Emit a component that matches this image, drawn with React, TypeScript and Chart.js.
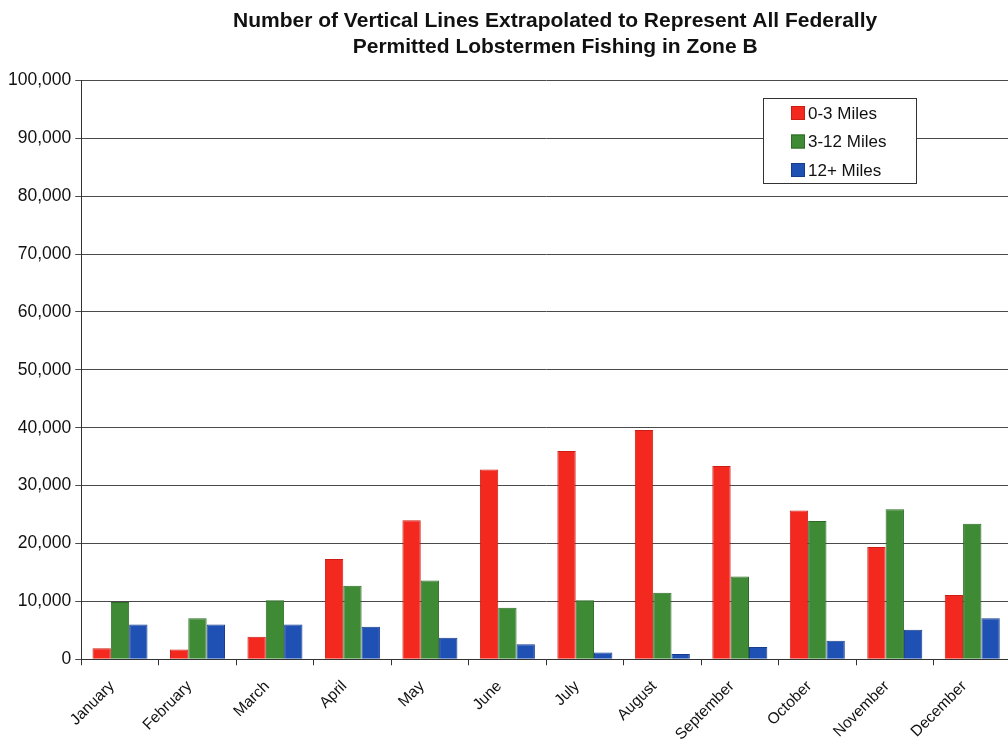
import React, { useEffect, useRef } from "react";
import { Chart, registerables } from "chart.js";

Chart.register(...registerables);

const months = [
  "January", "February", "March", "April", "May", "June",
  "July", "August", "September", "October", "November", "December",
];
const miles0to3 = [1900, 1700, 3900, 17300, 24000, 32800, 36000, 39600, 33400, 25700, 19400, 11100];
const miles3to12 = [9900, 7100, 10200, 12700, 13600, 8900, 10200, 11500, 14300, 23900, 25900, 23400];
const miles12plus = [6000, 6000, 6000, 5600, 3700, 2600, 1150, 900, 2100, 3200, 5100, 7100];
const seriesLabels = ["0-3 Miles", "3-12 Miles", "12+ Miles"];
const titleLines = [
  "Number of Vertical Lines Extrapolated to Represent All Federally",
  "Permitted Lobstermen Fishing in Zone B",
];

const FONT = 'Arial, "Liberation Sans", Helvetica, sans-serif';

const shiftTitle = {
  id: "shiftTitle",
  afterLayout(chart: any) {
    const t = chart.titleBlock;
    if (t) {
      t.left += 9;
      t.right += 9;
    }
  },
};

const boxLegend = {
  id: "boxLegend",
  afterDraw(chart: any) {
    const ctx = chart.ctx;
    const left = 763;
    const top = 98;
    const w = 153;
    const h = 85;
    ctx.save();
    ctx.fillStyle = "#ffffff";
    ctx.fillRect(left, top, w, h);
    ctx.strokeStyle = "#333333";
    ctx.lineWidth = 1;
    ctx.strokeRect(left + 0.5, top + 0.5, w, h);
    ctx.font = `17px ${FONT}`;
    ctx.textBaseline = "middle";
    ctx.textAlign = "left";
    chart.data.datasets.forEach((ds: any, i: number) => {
      const cy = top + 15 + i * 28.5;
      ctx.fillStyle = ds.backgroundColor;
      ctx.fillRect(791, cy - 7, 14, 14);
      ctx.strokeStyle = ds.borderColor;
      ctx.strokeRect(791.5, cy - 6.5, 13, 13);
      ctx.fillStyle = "#111111";
      ctx.fillText(ds.label, 808, cy + 1);
    });
    ctx.restore();
  },
};

export default function App() {
  const ref = useRef<HTMLCanvasElement | null>(null);

  useEffect(() => {
    if (!ref.current) return;
    const chart = new Chart(ref.current, {
      type: "bar",
      data: {
        labels: months,
        datasets: [
          {
            label: seriesLabels[0],
            data: miles0to3,
            backgroundColor: "#f3281f",
            borderColor: "#cc1d14",
            borderWidth: 1,
          },
          {
            label: seriesLabels[1],
            data: miles3to12,
            backgroundColor: "#3f8b35",
            borderColor: "#2c6a25",
            borderWidth: 1,
          },
          {
            label: seriesLabels[2],
            data: miles12plus,
            backgroundColor: "#1f50b4",
            borderColor: "#173c8c",
            borderWidth: 1,
          },
        ],
      },
      options: {
        animation: false,
        responsive: true,
        maintainAspectRatio: false,
        datasets: { bar: { categoryPercentage: 0.71, barPercentage: 1.0 } },
        layout: { padding: { top: 4, right: 5, bottom: -6, left: 4 } },
        plugins: {
          legend: { display: false },
          tooltip: { enabled: false },
          title: {
            display: true,
            fullSize: false,
            text: titleLines,
            color: "#111111",
            font: { family: FONT, size: 21, weight: "bold", lineHeight: 1.25 },
            padding: { top: 4, bottom: 20 },
          },
        },
        scales: {
          x: {
            grid: {
              display: true,
              drawOnChartArea: false,
              drawTicks: true,
              tickLength: 6,
              color: "#333333",
            },
            border: { display: true, color: "#333333", width: 1 },
            ticks: {
              color: "#111111",
              font: { family: FONT, size: 15.5 },
              maxRotation: 45,
              minRotation: 45,
              autoSkip: false,
              padding: 12,
              labelOffset: -8,
            },
          },
          y: {
            min: 0,
            max: 100000,
            grid: {
              display: true,
              color: "#4a4a4a",
              drawTicks: true,
              tickLength: 6,
            },
            border: { display: true, color: "#333333", width: 1 },
            ticks: {
              stepSize: 10000,
              color: "#111111",
              font: { family: FONT, size: 17.5 },
              padding: 4,
              callback: (v: any) => Number(v).toLocaleString("en-US"),
            },
          },
        },
      },
      plugins: [shiftTitle, boxLegend],
    });
    return () => chart.destroy();
  }, []);

  return (
    <div style={{ position: "fixed", left: 0, top: 0, width: 1008, height: 750, overflow: "hidden", background: "#fff" }}>
      <div style={{ position: "relative", width: 1016, height: 750 }}>
        <canvas ref={ref} />
      </div>
    </div>
  );
}
